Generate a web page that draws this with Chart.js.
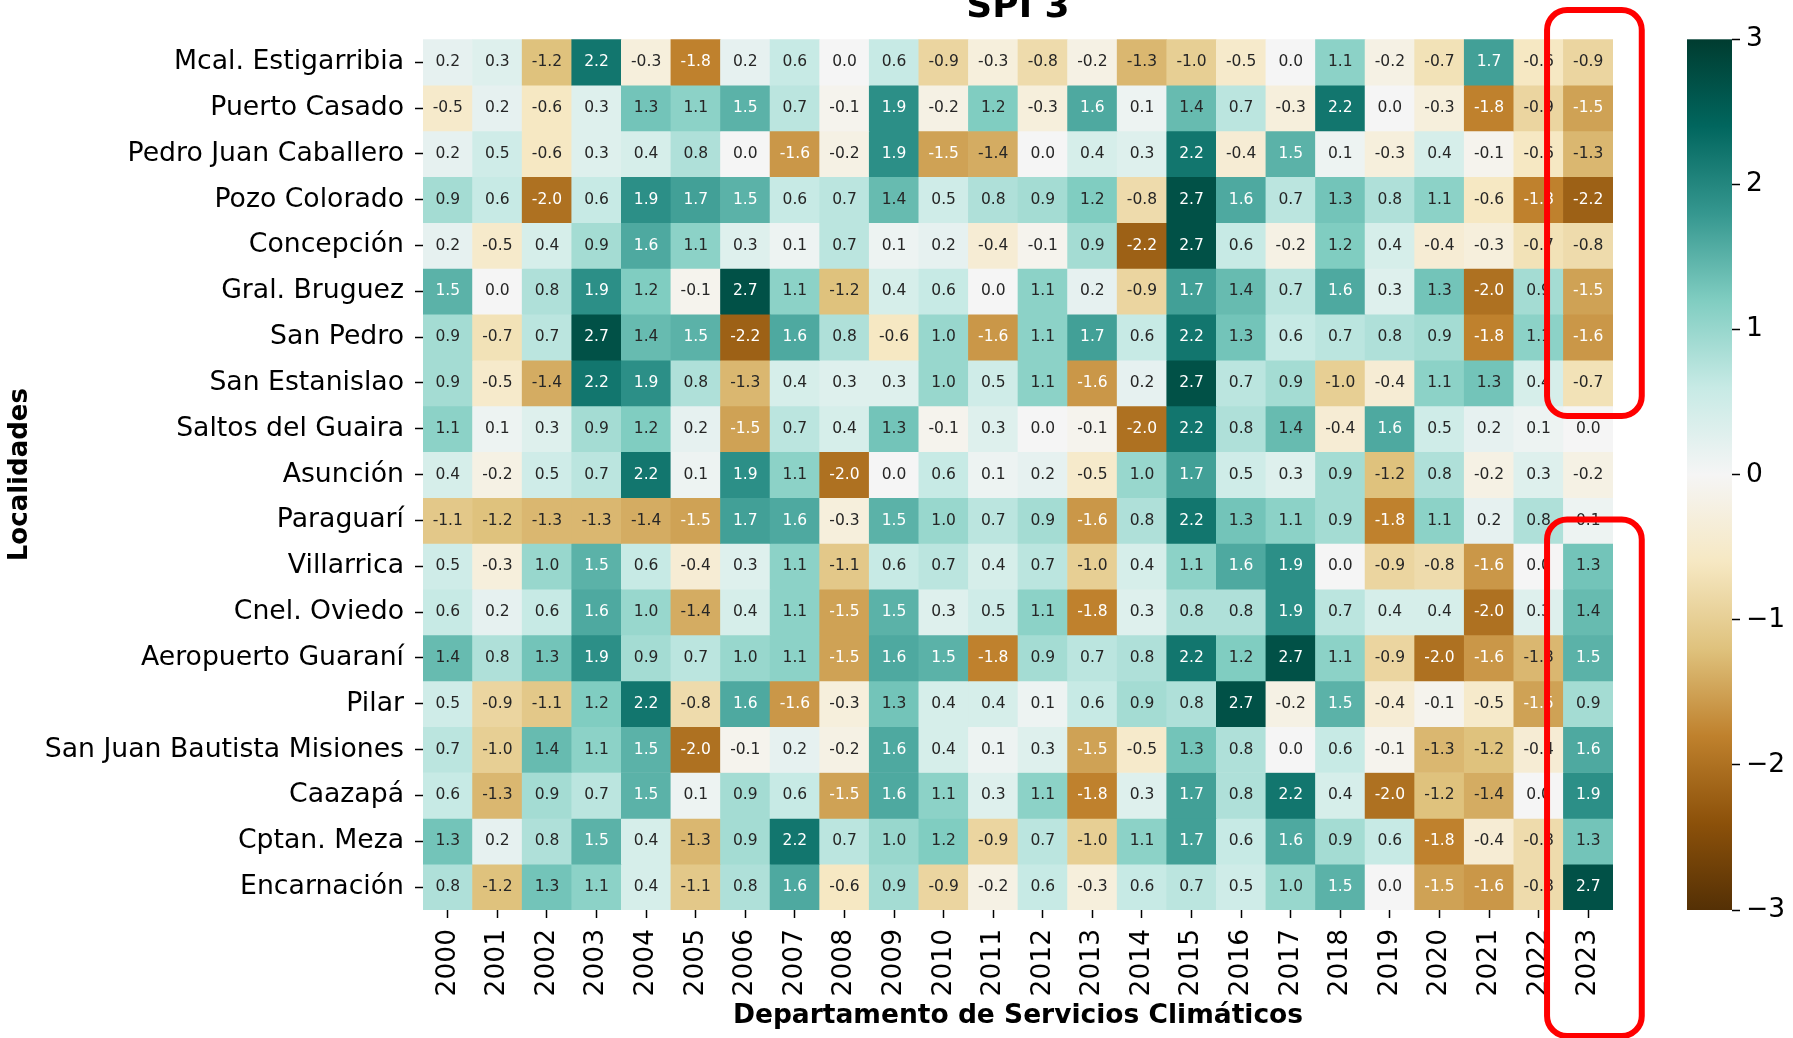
<!DOCTYPE html>
<html>
<head>
<meta charset="utf-8">
<script src="https://cdn.jsdelivr.net/npm/chart.js@4.4.1/dist/chart.umd.min.js"></script>
<style>
    html, body { margin: 0; padding: 0; background: #fff; }
    #wrap { width: 1793px; height: 1038px; }
</style>
</head>
<body>
<div id="wrap"><canvas id="spiChart" width="1793" height="1038"></canvas></div>
<script>
// Datos SPI 3 por localidad (2000 - 2023)
const years = ['2000','2001','2002','2003','2004','2005','2006','2007','2008','2009','2010','2011',
               '2012','2013','2014','2015','2016','2017','2018','2019','2020','2021','2022','2023'];

const localidades = ['Mcal. Estigarribia','Puerto Casado','Pedro Juan Caballero','Pozo Colorado',
    'Concepción','Gral. Bruguez','San Pedro','San Estanislao','Saltos del Guaira','Asunción',
    'Paraguarí','Villarrica','Cnel. Oviedo','Aeropuerto Guaraní','Pilar',
    'San Juan Bautista Misiones','Caazapá','Cptan. Meza','Encarnación'];

const mcalEstigarribia = [0.2,0.3,-1.2,2.2,-0.3,-1.8,0.2,0.6,0.0,0.6,-0.9,-0.3,-0.8,-0.2,-1.3,-1.0,-0.5,0.0,1.1,-0.2,-0.7,1.7,-0.6,-0.9];
const puertoCasado = [-0.5,0.2,-0.6,0.3,1.3,1.1,1.5,0.7,-0.1,1.9,-0.2,1.2,-0.3,1.6,0.1,1.4,0.7,-0.3,2.2,0.0,-0.3,-1.8,-0.9,-1.5];
const pedroJuanCaballero = [0.2,0.5,-0.6,0.3,0.4,0.8,0.0,-1.6,-0.2,1.9,-1.5,-1.4,0.0,0.4,0.3,2.2,-0.4,1.5,0.1,-0.3,0.4,-0.1,-0.6,-1.3];
const pozoColorado = [0.9,0.6,-2.0,0.6,1.9,1.7,1.5,0.6,0.7,1.4,0.5,0.8,0.9,1.2,-0.8,2.7,1.6,0.7,1.3,0.8,1.1,-0.6,-1.8,-2.2];
const concepcion = [0.2,-0.5,0.4,0.9,1.6,1.1,0.3,0.1,0.7,0.1,0.2,-0.4,-0.1,0.9,-2.2,2.7,0.6,-0.2,1.2,0.4,-0.4,-0.3,-0.7,-0.8];
const gralBruguez = [1.5,0.0,0.8,1.9,1.2,-0.1,2.7,1.1,-1.2,0.4,0.6,0.0,1.1,0.2,-0.9,1.7,1.4,0.7,1.6,0.3,1.3,-2.0,0.9,-1.5];
const sanPedro = [0.9,-0.7,0.7,2.7,1.4,1.5,-2.2,1.6,0.8,-0.6,1.0,-1.6,1.1,1.7,0.6,2.2,1.3,0.6,0.7,0.8,0.9,-1.8,1.1,-1.6];
const sanEstanislao = [0.9,-0.5,-1.4,2.2,1.9,0.8,-1.3,0.4,0.3,0.3,1.0,0.5,1.1,-1.6,0.2,2.7,0.7,0.9,-1.0,-0.4,1.1,1.3,0.4,-0.7];
const saltosDelGuaira = [1.1,0.1,0.3,0.9,1.2,0.2,-1.5,0.7,0.4,1.3,-0.1,0.3,0.0,-0.1,-2.0,2.2,0.8,1.4,-0.4,1.6,0.5,0.2,0.1,0.0];
const asuncion = [0.4,-0.2,0.5,0.7,2.2,0.1,1.9,1.1,-2.0,0.0,0.6,0.1,0.2,-0.5,1.0,1.7,0.5,0.3,0.9,-1.2,0.8,-0.2,0.3,-0.2];
const paraguari = [-1.1,-1.2,-1.3,-1.3,-1.4,-1.5,1.7,1.6,-0.3,1.5,1.0,0.7,0.9,-1.6,0.8,2.2,1.3,1.1,0.9,-1.8,1.1,0.2,0.8,0.1];
const villarrica = [0.5,-0.3,1.0,1.5,0.6,-0.4,0.3,1.1,-1.1,0.6,0.7,0.4,0.7,-1.0,0.4,1.1,1.6,1.9,0.0,-0.9,-0.8,-1.6,0.0,1.3];
const cnelOviedo = [0.6,0.2,0.6,1.6,1.0,-1.4,0.4,1.1,-1.5,1.5,0.3,0.5,1.1,-1.8,0.3,0.8,0.8,1.9,0.7,0.4,0.4,-2.0,0.3,1.4];
const aeropuertoGuarani = [1.4,0.8,1.3,1.9,0.9,0.7,1.0,1.1,-1.5,1.6,1.5,-1.8,0.9,0.7,0.8,2.2,1.2,2.7,1.1,-0.9,-2.0,-1.6,-1.3,1.5];
const pilar = [0.5,-0.9,-1.1,1.2,2.2,-0.8,1.6,-1.6,-0.3,1.3,0.4,0.4,0.1,0.6,0.9,0.8,2.7,-0.2,1.5,-0.4,-0.1,-0.5,-1.5,0.9];
const sanJuanBautista = [0.7,-1.0,1.4,1.1,1.5,-2.0,-0.1,0.2,-0.2,1.6,0.4,0.1,0.3,-1.5,-0.5,1.3,0.8,0.0,0.6,-0.1,-1.3,-1.2,-0.4,1.6];
const caazapa = [0.6,-1.3,0.9,0.7,1.5,0.1,0.9,0.6,-1.5,1.6,1.1,0.3,1.1,-1.8,0.3,1.7,0.8,2.2,0.4,-2.0,-1.2,-1.4,0.0,1.9];
const cptanMeza = [1.3,0.2,0.8,1.5,0.4,-1.3,0.9,2.2,0.7,1.0,1.2,-0.9,0.7,-1.0,1.1,1.7,0.6,1.6,0.9,0.6,-1.8,-0.4,-0.8,1.3];
const encarnacion = [0.8,-1.2,1.3,1.1,0.4,-1.1,0.8,1.6,-0.6,0.9,-0.9,-0.2,0.6,-0.3,0.6,0.7,0.5,1.0,1.5,0.0,-1.5,-1.6,-0.8,2.7];

const spiRows = [mcalEstigarribia, puertoCasado, pedroJuanCaballero, pozoColorado, concepcion,
    gralBruguez, sanPedro, sanEstanislao, saltosDelGuaira, asuncion, paraguari, villarrica,
    cnelOviedo, aeropuertoGuarani, pilar, sanJuanBautista, caazapa, cptanMeza, encarnacion];

const colorbarTicks = [-3, -2, -1, 0, 1, 2, 3];

// Mapa de colores BrBG (vmin -3, vmax 3)
const brbgStops = [[84,48,5],[140,81,10],[191,129,45],[223,194,125],[246,232,195],[245,245,245],
                   [199,234,229],[128,205,193],[53,151,143],[1,102,94],[0,60,48]];

function brbg(v) {
    let t = Math.min(1, Math.max(0, (v + 3) / 6));
    const p = t * 10;
    const i = Math.min(9, Math.floor(p));
    const f = p - i;
    const a = brbgStops[i], b = brbgStops[i + 1];
    return a.map((c, k) => c + (b[k] - c) * f);
}

function rgbStr(c) {
    return 'rgb(' + c.map(Math.round).join(',') + ')';
}

function textColorFor(v) {
    const lin = brbg(v).map(c => {
        c = c / 255;
        return c <= 0.03928 ? c / 12.92 : Math.pow((c + 0.055) / 1.055, 2.4);
    });
    const lum = 0.2126 * lin[0] + 0.7152 * lin[1] + 0.0722 * lin[2];
    return lum > 0.408 ? '#262626' : '#ffffff';
}

const FONT = 'DejaVu Sans';

// Recuadros rojos (en unidades de columna / fila)
const highlightBoxes = [
    { x0: 22.17, x1: 24.08, y0: -0.64, y1: 8.22 },
    { x0: 22.17, x1: 24.08, y0: 10.48, y1: 21.75 }
];

const cellLabels = {
    id: 'cellLabels',
    afterDatasetsDraw(chart) {
        const ctx = chart.ctx;
        ctx.save();
        ctx.font = '15.5px "' + FONT + '"';
        ctx.textAlign = 'center';
        ctx.textBaseline = 'middle';
        spiRows.forEach((row, r) => {
            const meta = chart.getDatasetMeta(r);
            meta.data.forEach((bar, c) => {
                const pt = bar.getCenterPoint();
                ctx.fillStyle = textColorFor(row[c]);
                ctx.fillText(row[c].toFixed(1), pt.x, pt.y);
            });
        });
        ctx.restore();
    }
};

const colorbar = {
    id: 'colorbar',
    afterDraw(chart) {
        const ctx = chart.ctx;
        const cb = chart.scales.cb;
        const gap = chart.scales.gap;
        const top = cb.getPixelForValue(3);
        const bottom = cb.getPixelForValue(-3);
        const x1 = gap.right;
        const x0 = x1 - 45;
        const grad = ctx.createLinearGradient(0, bottom, 0, top);
        brbgStops.forEach((c, i) => grad.addColorStop(i / 10, rgbStr(c)));
        ctx.save();
        ctx.fillStyle = grad;
        ctx.fillRect(x0, top, x1 - x0, bottom - top);
        ctx.restore();
    }
};

const redBoxes = {
    id: 'redBoxes',
    afterDraw(chart) {
        const ctx = chart.ctx;
        const xs = chart.scales.x, ys = chart.scales.y;
        ctx.save();
        ctx.strokeStyle = '#ff0000';
        ctx.lineWidth = 6;
        highlightBoxes.forEach(b => {
            const left = xs.getPixelForValue(b.x0);
            const right = xs.getPixelForValue(b.x1);
            const top = ys.getPixelForValue(b.y0);
            const bottom = ys.getPixelForValue(b.y1);
            ctx.beginPath();
            ctx.roundRect(left, top, right - left, bottom - top, 20);
            ctx.stroke();
        });
        ctx.restore();
    }
};

const datasets = spiRows.map((row, r) => ({
    label: localidades[r],
    data: row.map(() => [r, r + 1]),
    backgroundColor: row.map(v => rgbStr(brbg(v))),
    borderWidth: 0,
    barPercentage: 1,
    categoryPercentage: 1,
    yAxisID: 'y'
}));

const tickGrid = {
    display: true,
    drawOnChartArea: false,
    drawTicks: true,
    tickLength: 8,
    tickWidth: 1.5,
    tickColor: '#000',
    offset: false
};

new Chart(document.getElementById('spiChart'), {
    type: 'bar',
    data: { labels: years, datasets: datasets },
    options: {
        responsive: false,
        animation: false,
        devicePixelRatio: 1,
        layout: { padding: { left: 0, right: 7, top: 0, bottom: 0 } },
        plugins: {
            legend: { display: false },
            tooltip: { enabled: false },
            title: {
                display: true,
                fullSize: false,
                text: 'SPI 3',
                color: '#000',
                font: { family: FONT, size: 36, weight: 'bold', lineHeight: 0.4 },
                padding: { top: 0, bottom: 24.9 }
            }
        },
        scales: {
            x: {
                type: 'category',
                stacked: true,
                offset: true,
                grid: tickGrid,
                border: { display: false },
                ticks: {
                    autoSkip: false,
                    minRotation: 90,
                    maxRotation: 90,
                    padding: 11,
                    color: '#000',
                    font: { family: FONT, size: 26.5 }
                },
                title: {
                    display: true,
                    text: 'Departamento de Servicios Climáticos',
                    color: '#000',
                    font: { family: FONT, size: 26.5, weight: 'bold' },
                    padding: { top: 0, bottom: 6 }
                },
                afterFit: s => { s.height = 128; }
            },
            y: {
                type: 'linear',
                min: 0,
                max: 19,
                reverse: true,
                stacked: false,
                grid: tickGrid,
                border: { display: false },
                afterBuildTicks: s => { s.ticks = localidades.map((n, i) => ({ value: i + 0.5 })); },
                ticks: {
                    autoSkip: false,
                    padding: 11,
                    color: '#000',
                    font: { family: FONT, size: 26.7 },
                    callback: (value, index) => localidades[index]
                },
                title: {
                    display: true,
                    text: 'Localidades',
                    color: '#000',
                    font: { family: FONT, size: 26, weight: 'bold' },
                    padding: { top: 5, bottom: 0 }
                },
                afterFit: s => { s.width = 423; }
            },
            gap: {
                axis: 'y',
                type: 'linear',
                position: 'right',
                weight: 0,
                ticks: { display: false },
                grid: { display: false },
                border: { display: false },
                afterFit: s => { s.width = 119; }
            },
            cb: {
                axis: 'y',
                type: 'linear',
                position: 'right',
                weight: 1,
                min: -3,
                max: 3,
                afterBuildTicks: s => { s.ticks = colorbarTicks.map(v => ({ value: v })); },
                grid: {
                    display: true,
                    drawOnChartArea: false,
                    drawTicks: true,
                    tickLength: 8,
                    tickWidth: 1.5,
                    tickColor: '#000'
                },
                border: { display: false },
                ticks: {
                    padding: 6,
                    color: '#000',
                    font: { family: FONT, size: 26.5 },
                    callback: v => (v < 0 ? '\u2212' + Math.abs(v) : String(v))
                },
                afterFit: s => { s.width = 54; }
            }
        }
    },
    plugins: [cellLabels, colorbar, redBoxes]
});
</script>
</body>
</html>
